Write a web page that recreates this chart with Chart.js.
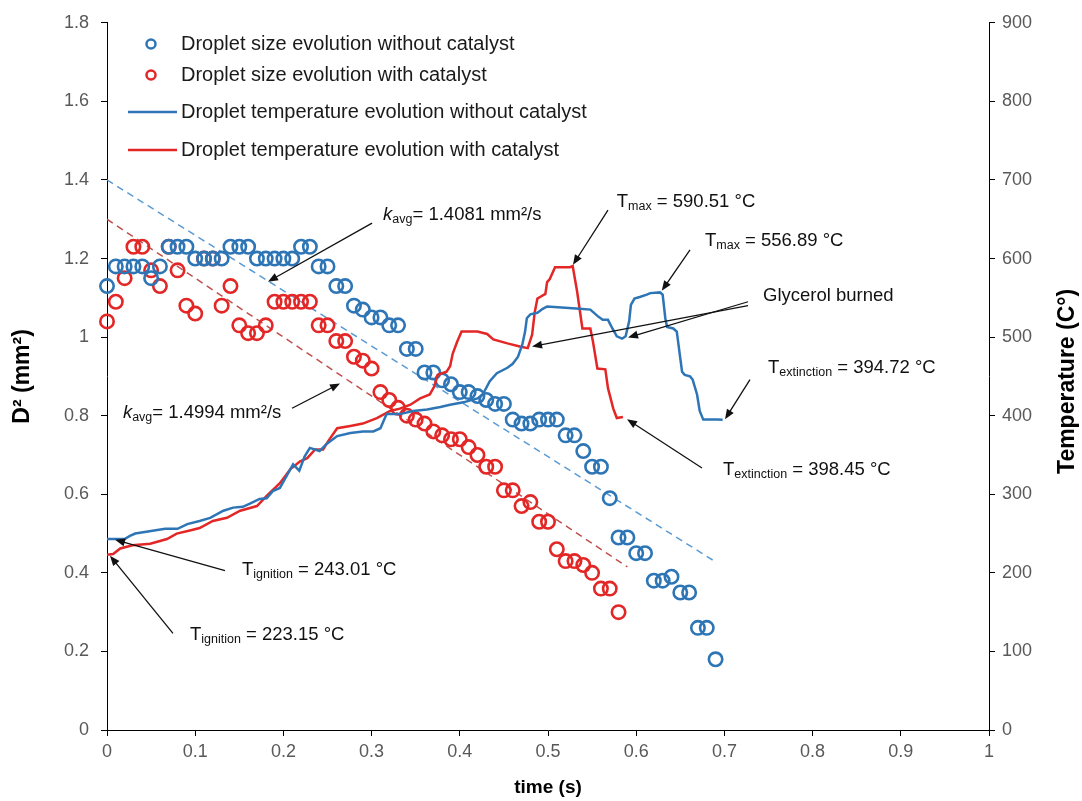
<!DOCTYPE html>
<html>
<head>
<meta charset="utf-8">
<title>Droplet D2 and temperature</title>
<script src="https://cdn.jsdelivr.net/npm/chart.js@4.4.0/dist/chart.umd.min.js"></script>
<style>
body { margin: 0; background: #fff; }
#wrap { width: 1082px; height: 801px; }
</style>
</head>
<body>
<div id="wrap"><canvas id="myChart" width="1082" height="801"></canvas></div>
<script>
// legend / series names
var seriesNames = [
    'Droplet size evolution without catalyst',
    'Droplet size evolution with catalyst',
    'Droplet temperature evolution without catalyst',
    'Droplet temperature evolution with catalyst'
];

// D^2 (mm2) points, without catalyst
var sizeTimeNoCat = [0,0.01,0.02,0.03,0.04,0.05,0.06,0.07,0.08,0.09,0.1,0.11,0.12,0.13,0.14,0.15,0.16,0.17,0.18,0.19,
    0.2,0.21,0.22,0.23,0.24,0.25,0.26,0.27,0.28,0.29,0.3,0.31,0.32,0.33,0.34,0.35,0.36,0.37,0.38,0.39,
    0.4,0.41,0.42,0.43,0.44,0.45,0.46,0.47,0.48,0.49,0.5,0.51,0.52,0.53,0.54,0.55,0.56,0.57,0.58,0.59,
    0.6,0.61,0.62,0.63,0.64,0.65,0.66,0.67,0.68,0.69];
var sizeNoCat = [1.13,1.18,1.18,1.18,1.18,1.15,1.18,1.23,1.23,1.23, 1.20,1.20,1.20,1.20,1.23,1.23,1.23,1.20,1.20,1.20,
    1.20,1.20,1.23,1.23,1.18,1.18,1.13,1.13,1.08,1.07, 1.05,1.05,1.03,1.03,0.97,0.97,0.91,0.91,0.89,0.88,
    0.86,0.86,0.85,0.84,0.83,0.83,0.79,0.78,0.78,0.79, 0.79,0.79,0.75,0.75,0.71,0.67,0.67,0.59,0.49,0.49,
    0.45,0.45,0.38,0.38,0.39,0.35,0.35,0.26,0.26,0.18];

// D^2 (mm2) points, with catalyst
var sizeTimeCat = [0,0.01,0.02,0.03,0.04,0.05,0.06,0.07,0.08,0.09,0.1,0.11,0.12,0.13,0.14,0.15,0.16,0.17,0.18,0.19,
    0.2,0.21,0.22,0.23,0.24,0.25,0.26,0.27,0.28,0.29,0.3,0.31,0.32,0.33,0.34,0.35,0.36,0.37,0.38,0.39,
    0.4,0.41,0.42,0.43,0.44,0.45,0.46,0.47,0.48,0.49,0.5,0.51,0.52,0.53,0.54,0.55,0.56,0.57,0.58];
var sizeCat = [1.04,1.09,1.15,1.23,1.23,1.17,1.13,1.23,1.17,1.08, 1.06,1.20,1.20,1.08,1.13,1.03,1.01,1.01,1.03,1.09,
    1.09,1.09,1.09,1.09,1.03,1.03,0.99,0.99,0.95,0.94, 0.92,0.86,0.84,0.82,0.80,0.79,0.78,0.76,0.75,0.74,
    0.74,0.72,0.70,0.67,0.67,0.61,0.61,0.57,0.58,0.53, 0.53,0.46,0.43,0.43,0.42,0.40,0.36,0.36,0.30];

// temperature (C) without catalyst
var tempTimeNoCat = [0,0.02,0.026,0.032,0.066,0.08,0.091,0.105,0.117,0.132,0.143,0.154,0.162,0.173,0.181,0.188,0.196,
    0.204,0.211,0.218,0.224,0.23,0.241,0.249,0.261,0.276,0.29,0.302,0.31,0.317,0.332,0.347,0.363,0.378,0.389,
    0.404,0.42,0.426,0.434,0.442,0.454,0.46,0.466,0.471,0.474,0.476,0.48,0.488,0.494,0.499,0.536,0.548,0.556,
    0.562,0.568,0.573,0.578,0.584,0.588,0.592,0.594,0.598,0.604,0.612,0.616,0.627,0.63,0.633,0.635,0.642,
    0.646,0.652,0.655,0.661,0.664,0.669,0.672,0.676,0.692,0.698];
var tempNoCat = [243.01,243,247,250,256,256,262,266,270,279,283,284,288,294,295,304,308,
    324,338,330,348,359,355,364,374,378,380,380,384,402,402,406,408,411,414,
    417,422,427,444,454,461,466,475,491,507,524,529,531,536,539,536,535,527,
    522,522,511,501,498,501,520,541,549,551,554,556,556.89,554,524,513,511,
    507,456,452,450,446,427,406,395,395,394.72];

// temperature (C) with catalyst
var tempTimeCat = [0,0.007,0.015,0.029,0.049,0.068,0.079,0.094,0.105,0.12,0.136,0.151,0.17,0.181,0.196,0.208,
    0.219,0.227,0.236,0.245,0.251,0.261,0.276,0.29,0.306,0.321,0.332,0.344,0.355,0.366,0.371,0.375,0.385,
    0.389,0.392,0.397,0.402,0.42,0.431,0.438,0.454,0.468,0.477,0.482,0.485,0.488,0.491,0.497,0.499,0.502,
    0.508,0.525,0.528,0.533,0.539,0.548,0.551,0.556,0.565,0.568,0.574,0.578,0.585];
var tempCat = [223.15,224,231,235,237,243,250,254,257,266,270,279,285,298,314,332,
    342,346,357,357,368,384,387,390,397,406,409,414,422,427,437,452,456,
    463,479,494,507,507,504,497,492,488,486,503,532,549,551,555,570,574,
    589,589,590.51,558,511,511,494,460,459,435,409,397,398.45];

// k_avg trend lines (end points)
var fitTimeNoCat = [0, 0.69];
var fitNoCat = [1.40, 0.428];
var fitTimeCat = [0, 0.59];
var fitCat = [1.30, 0.415];

// tick labels
var xTickLabels = ['0','0.1','0.2','0.3','0.4','0.5','0.6','0.7','0.8','0.9','1'];
var yTickLabels = ['0','0.2','0.4','0.6','0.8','1','1.2','1.4','1.6','1.8'];
var y2TickLabels = ['0','100','200','300','400','500','600','700','800','900'];

// text + arrows (positions in data units: time, D2)
var notes = [
    {text: [['k','i'],['avg','s'],['= 1.4081 mm²/s']], at: [0.313, 1.299], arrows: [[0.3005, 1.290, 0.1825, 1.141]]},
    {text: [['k','i'],['avg','s'],['= 1.4994 mm²/s']], at: [0.018, 0.795], arrows: [[0.2098, 0.819, 0.2642, 0.882]]},
    {text: [['T'],['max','s'],[' = 590.51 °C']], at: [0.578, 1.332], arrows: [[0.568, 1.323, 0.5283, 1.184]]},
    {text: [['T'],['max','s'],[' = 556.89 °C']], at: [0.678, 1.231], arrows: [[0.661, 1.222, 0.629, 1.118]]},
    {text: [['Glycerol burned']], at: [0.7438, 1.091], arrows: [[0.7268, 1.090, 0.5907, 0.9989], [0.7268, 1.080, 0.4819, 0.976]]},
    {text: [['T'],['extinction','s'],[' = 394.72 °C']], at: [0.7494, 0.909], arrows: [[0.729, 0.892, 0.7007, 0.791]]},
    {text: [['T'],['extinction','s'],[' = 398.45 °C']], at: [0.6984, 0.648], arrows: [[0.6746, 0.667, 0.5896, 0.791]]},
    {text: [['T'],['ignition','s'],[' = 243.01 °C']], at: [0.153, 0.394], arrows: [[0.1338, 0.4056, 0.0091, 0.4842]]},
    {text: [['T'],['ignition','s'],[' = 223.15 °C']], at: [0.0941, 0.2294], arrows: [[0.0748, 0.2459, 0.0034, 0.4437]]}
];

var FONT = "'Liberation Sans', Arial, sans-serif";
var BLUE = '#2E75B6';
var RED = '#E32626';

function toPoints(xs, ys) {
    var pts = [];
    for (var i = 0; i < xs.length; i++) {
        pts.push({x: xs[i], y: ys[i]});
    }
    return pts;
}

// draws "T" + subscript + rest, from left x at baseline y
function drawRich(ctx, parts, x, y) {
    var cx = x;
    for (var i = 0; i < parts.length; i++) {
        var txt = parts[i][0], kind = parts[i][1];
        var dy = 0;
        if (kind == 's') { ctx.font = '12.5px ' + FONT; dy = 3; }
        else if (kind == 'i') { ctx.font = 'italic 18.5px ' + FONT; }
        else { ctx.font = '18.5px ' + FONT; }
        ctx.fillText(txt, cx, y + dy);
        cx += ctx.measureText(txt).width;
    }
}

function arrow(ctx, x1, y1, x2, y2) {
    var a = Math.atan2(y2 - y1, x2 - x1);
    var c = Math.cos(a), s = Math.sin(a);
    ctx.beginPath();
    ctx.moveTo(x1, y1);
    ctx.lineTo(x2 - 6 * c, y2 - 6 * s);
    ctx.stroke();
    ctx.beginPath();
    ctx.moveTo(x2, y2);
    ctx.lineTo(x2 - 10 * c + 4 * s, y2 - 10 * s - 4 * c);
    ctx.lineTo(x2 - 10 * c - 4 * s, y2 - 10 * s + 4 * c);
    ctx.closePath();
    ctx.fill();
}

// legend, notes and right axis title
var extras = {
    id: 'extras',
    afterDraw: function (chart) {
        var ctx = chart.ctx;
        var xs = chart.scales.x, ys = chart.scales.y;
        var area = chart.chartArea;
        ctx.save();

        // legend inside plot
        var rows = [44, 75, 112, 150];
        var mx = area.left + 44;
        ctx.textBaseline = 'middle';
        ctx.textAlign = 'left';
        ctx.font = '20px ' + FONT;
        for (var i = 0; i < 4; i++) {
            var col = (i % 2 == 0) ? BLUE : RED;
            ctx.strokeStyle = col;
            ctx.lineWidth = 2.5;
            if (i < 2) {
                ctx.beginPath();
                ctx.arc(mx, rows[i], 4.5, 0, Math.PI * 2);
                ctx.stroke();
            } else {
                ctx.beginPath();
                ctx.moveTo(area.left + 21, rows[i]);
                ctx.lineTo(area.left + 70, rows[i]);
                ctx.stroke();
            }
            ctx.fillStyle = '#1a1a1a';
            ctx.fillText(seriesNames[i], area.left + 74, rows[i]);
        }

        // notes with arrows
        ctx.textBaseline = 'alphabetic';
        ctx.fillStyle = '#111';
        ctx.strokeStyle = '#111';
        ctx.lineWidth = 1.3;
        notes.forEach(function (n) {
            drawRich(ctx, n.text, xs.getPixelForValue(n.at[0]), ys.getPixelForValue(n.at[1]));
            n.arrows.forEach(function (a) {
                arrow(ctx, xs.getPixelForValue(a[0]), ys.getPixelForValue(a[1]),
                    xs.getPixelForValue(a[2]), ys.getPixelForValue(a[3]));
            });
        });

        // right axis title reads bottom to top
        ctx.translate(1068, (area.top + area.bottom) / 2 + 5);
        ctx.rotate(-Math.PI / 2);
        ctx.textAlign = 'center';
        ctx.textBaseline = 'middle';
        ctx.fillStyle = '#000';
        ctx.font = 'bold 23px ' + FONT;
        ctx.fillText('Temperature (C°)', 0, 0);
        ctx.restore();
    }
};

var tickFont = {family: FONT, size: 18};
var axisGrid = {drawOnChartArea: false, drawTicks: true, tickLength: 6, tickColor: '#000', color: '#000'};

var ctx = document.getElementById('myChart');
var myChart = new Chart(ctx, {
    type: 'scatter',
    data: {
        datasets: [{
            label: seriesNames[2],
            data: toPoints(tempTimeNoCat, tempNoCat),
            yAxisID: 'y2',
            showLine: true,
            borderColor: BLUE,
            borderWidth: 2.5,
            pointRadius: 0,
            order: 0
        }, {
            label: seriesNames[3],
            data: toPoints(tempTimeCat, tempCat),
            yAxisID: 'y2',
            showLine: true,
            borderColor: RED,
            borderWidth: 2.5,
            pointRadius: 0,
            order: 0
        }, {
            label: seriesNames[0],
            data: toPoints(sizeTimeNoCat, sizeNoCat),
            yAxisID: 'y',
            borderColor: BLUE,
            backgroundColor: 'rgba(0,0,0,0)',
            pointRadius: 6.7,
            pointBorderWidth: 2.6,
            clip: false,
            order: 1
        }, {
            label: seriesNames[1],
            data: toPoints(sizeTimeCat, sizeCat),
            yAxisID: 'y',
            borderColor: RED,
            backgroundColor: 'rgba(0,0,0,0)',
            pointRadius: 6.7,
            pointBorderWidth: 2.6,
            clip: false,
            order: 1
        }, {
            label: 'fit without catalyst',
            data: toPoints(fitTimeNoCat, fitNoCat),
            yAxisID: 'y',
            showLine: true,
            borderColor: '#5B9BD5',
            borderWidth: 1.5,
            borderDash: [7, 5],
            pointRadius: 0,
            order: 2
        }, {
            label: 'fit with catalyst',
            data: toPoints(fitTimeCat, fitCat),
            yAxisID: 'y',
            showLine: true,
            borderColor: '#C0504D',
            borderWidth: 1.5,
            borderDash: [7, 5],
            pointRadius: 0,
            order: 2
        }]
    },
    options: {
        responsive: false,
        devicePixelRatio: 1,
        animation: false,
        layout: {padding: {top: 20, left: 0, right: 0, bottom: 0}},
        plugins: {
            legend: {display: false},
            tooltip: {enabled: false}
        },
        scales: {
            x: {
                type: 'linear',
                min: 0, max: 1,
                grid: axisGrid,
                border: {color: '#000', width: 1},
                ticks: {
                    stepSize: 0.1, font: tickFont, color: '#595959', padding: 5, maxRotation: 0,
                    callback: function (v, i) { return xTickLabels[i]; }
                },
                title: {display: true, text: 'time (s)', color: '#000',
                    font: {family: FONT, size: 19, weight: 'bold'}, padding: {top: 0, bottom: 2}},
                afterFit: function (s) { s.height = 71; }
            },
            y: {
                position: 'left',
                min: 0, max: 1.8,
                grid: axisGrid,
                border: {color: '#000', width: 1},
                ticks: {
                    stepSize: 0.2, font: tickFont, color: '#595959', padding: 12,
                    callback: function (v, i) { return yTickLabels[i]; }
                },
                title: {display: true, text: 'D² (mm²)', color: '#000',
                    font: {family: FONT, size: 23, weight: 'bold'}, padding: {top: 9, bottom: 0}},
                afterFit: function (s) { s.width = 107; }
            },
            y2: {
                position: 'right',
                min: 0, max: 900,
                grid: axisGrid,
                border: {color: '#000', width: 1},
                ticks: {
                    stepSize: 100, font: tickFont, color: '#595959', padding: 7,
                    callback: function (v, i) { return y2TickLabels[i]; }
                },
                afterFit: function (s) { s.width = 93; }
            }
        }
    },
    plugins: [extras]
});
</script>
</body>
</html>
